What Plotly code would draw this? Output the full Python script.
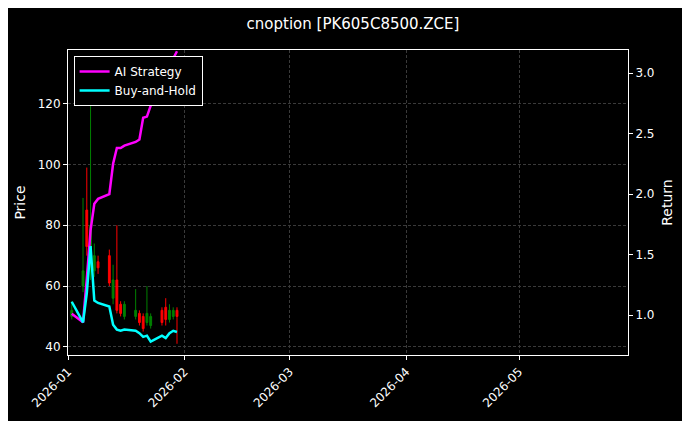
import plotly.graph_objects as go

dates = ["2026-01-02", "2026-01-05", "2026-01-06", "2026-01-07", "2026-01-08", "2026-01-09",
         "2026-01-12", "2026-01-13", "2026-01-14", "2026-01-15", "2026-01-16",
         "2026-01-19", "2026-01-20", "2026-01-21", "2026-01-22", "2026-01-23",
         "2026-01-26", "2026-01-27", "2026-01-28", "2026-01-29", "2026-01-30"]
opens = [50, 60, 85, 68, 65, 68, 70, 56, 62, 54, 50, 50, 51, 50, 48, 47, 52, 53, 49, 50, 52]
highs = [55, 89, 99, 132, 74, 70, 72, 67, 80, 55, 55, 59, 52, 51, 60, 51, 53, 56, 54, 53, 53]
lows = [49, 58, 70, 62, 63, 64, 60, 54, 51, 50, 49, 49, 47, 45, 47, 46, 47, 47, 48, 49, 41]
closes = [52, 65, 73, 80, 70, 66, 61, 62, 52, 51, 54, 52, 48, 46, 51, 50, 48, 49, 52, 52, 50]
ai_ret = [1.01, 0.94, 1.30, 1.70, 1.92, 1.96, 2.0, 2.25, 2.38, 2.38, 2.40,
          2.43, 2.45, 2.63, 2.64, 2.73, 2.83, 2.95, 3.05, 3.12, 3.18]
bh_ret = [1.11, 0.94, 1.18, 1.57, 1.12, 1.10, 1.07, 0.92, 0.88, 0.87, 0.88,
          0.87, 0.85, 0.82, 0.83, 0.78, 0.83, 0.81, 0.85, 0.87, 0.86]

fig = go.Figure()
fig.add_trace(go.Candlestick(x=dates, open=opens, high=highs, low=lows, close=closes,
                             increasing=dict(line=dict(color='green', width=1), fillcolor='green'),
                             decreasing=dict(line=dict(color='red', width=1), fillcolor='red'),
                             whiskerwidth=0, showlegend=False))
fig.add_trace(go.Scatter(x=dates, y=ai_ret, mode='lines', name='AI Strategy',
                         line=dict(color='#ff00ff', width=2.5), yaxis='y2'))
fig.add_trace(go.Scatter(x=dates, y=bh_ret, mode='lines', name='Buy-and-Hold',
                         line=dict(color='#00ffff', width=2.5), yaxis='y2'))

axis_style = dict(showline=True, linecolor='white', ticks='outside', ticklen=4,
                  tickcolor='white', gridcolor='#3a3a3a', gridwidth=0.6, griddash='3px,2px',
                  zeroline=False, automargin=False, tickfont=dict(size=12))
fig.update_layout(
    width=690, height=421,
    paper_bgcolor='black', plot_bgcolor='black',
    font=dict(family='DejaVu Sans', color='white', size=12),
    title=dict(text='cnoption [PK605C8500.ZCE]', x=0.5, xanchor='center', y=0.975, yanchor='top',
               font=dict(size=15)),
    margin=dict(l=60, r=70, t=42, b=74),
    xaxis=dict(axis_style, range=['2026-01-01', '2026-05-30'], tickangle=-45,
               tickformat='%Y-%m', dtick='M1', rangeslider=dict(visible=False), mirror=True),
    yaxis=dict(axis_style, title=dict(text='Price', standoff=8), range=[37.3, 137.7], dtick=20, mirror=True),
    yaxis2=dict(axis_style, title=dict(text='Return', standoff=8), overlaying='y', side='right',
                range=[0.67, 3.19], dtick=0.5, tickformat='.1f', showgrid=False),
    legend=dict(x=0.01, y=0.98, xanchor='left', yanchor='top', bgcolor='black',
                bordercolor='white', borderwidth=1),
)
fig.write_html("out.html")
